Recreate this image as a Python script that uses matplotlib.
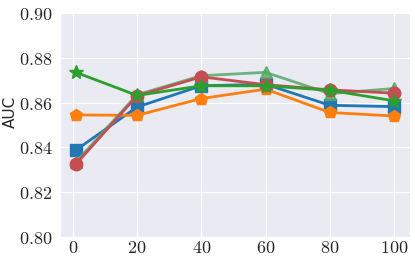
import matplotlib
matplotlib.use("Agg")
import matplotlib.pyplot as plt
import seaborn as sns
from matplotlib.ticker import FuncFormatter

sns.set_style("darkgrid")
plt.rcParams['mathtext.fontset'] = 'cm'

x = [1, 20, 40, 60, 80, 100]
blue_sq = [0.8388, 0.8580, 0.8675, 0.8682, 0.8588, 0.8582]
orange_pent = [0.8545, 0.8543, 0.8618, 0.8660, 0.8556, 0.8540]
green_tri = [0.8335, 0.8635, 0.8720, 0.8735, 0.8640, 0.8663]
red_circ = [0.8325, 0.8630, 0.8715, 0.8680, 0.8657, 0.8642]
green_star = [0.8735, 0.8632, 0.8675, 0.8675, 0.8655, 0.8608]

fig = plt.figure(figsize=(4.15, 2.64), dpi=100)
ax = fig.add_axes([60/415, 27/264, 350/415, 224/264])

ax.plot(x, blue_sq, marker='s', color='#1f77b4', lw=2, ms=8)
ax.plot(x, orange_pent, marker='p', color='#ff7f0e', lw=2, ms=9)
ax.plot(x, green_tri, marker='^', color='#55a868', lw=2, ms=9, alpha=0.85)
ax.plot(x, red_circ, marker='o', color='#c44e52', lw=2, ms=9)
ax.plot(x, green_star, marker='*', color='#2ca02c', lw=2, ms=10)

ax.set_ylim(0.80, 0.90)
ax.set_xticks([0, 20, 40, 60, 80, 100])
ax.set_yticks([0.80, 0.82, 0.84, 0.86, 0.88, 0.90])
ax.xaxis.set_major_formatter(FuncFormatter(lambda v, p: r'$%d$' % v))
ax.yaxis.set_major_formatter(FuncFormatter(lambda v, p: r'$%.2f$' % v))
ax.tick_params(labelsize=13)
ax.tick_params(axis='y', pad=2)
ax.tick_params(axis='x', pad=-2)
ax.set_ylabel('AUC', fontsize=11)
ax.yaxis.set_label_coords(-0.12, 0.56)

fig.savefig('out.png', dpi=100)
